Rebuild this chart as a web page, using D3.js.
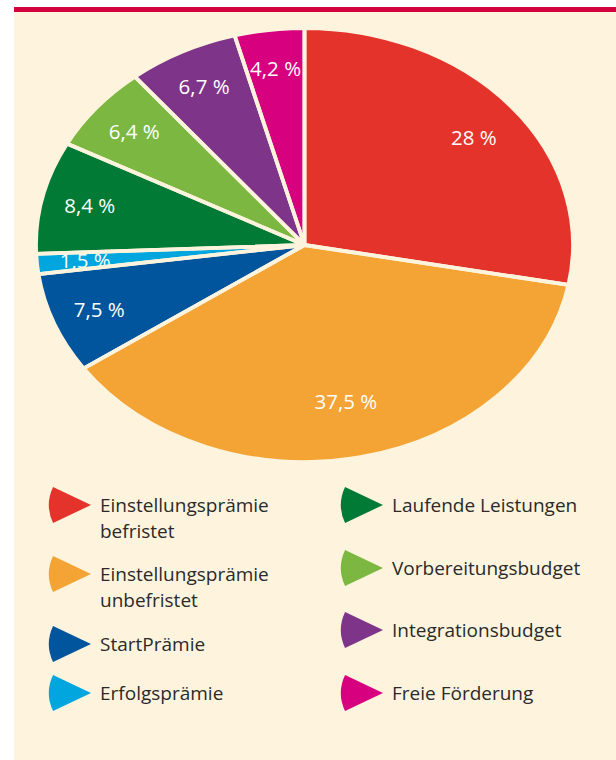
<!DOCTYPE html>
<html>
<head>
<meta charset="utf-8">
<script src="https://cdn.jsdelivr.net/npm/d3@7"></script>
<style>
  html, body { margin: 0; padding: 0; background: #ffffff; }
  svg { display: block; }
</style>
</head>
<body>
<svg id="chart" width="616" height="760"></svg>
<script>
// ---- data ----
const categories = [
  "Einstellungsprämie befristet",
  "Einstellungsprämie unbefristet",
  "StartPrämie",
  "Erfolgsprämie",
  "Laufende Leistungen",
  "Vorbereitungsbudget",
  "Integrationsbudget",
  "Freie Förderung"
];
const values = [28, 37.5, 7.5, 1.5, 8.4, 6.4, 6.7, 4.2];
const valueLabels = ["28 %", "37,5 %", "7,5 %", "1,5 %", "8,4 %", "6,4 %", "6,7 %", "4,2 %"];
const colors = ["#E4332A", "#F4A434", "#00559D", "#00A6DD", "#007A34", "#7CB742", "#7E3589", "#D7007F"];
const legendLines = [
  ["Einstellungsprämie", "befristet"],
  ["Einstellungsprämie", "unbefristet"],
  ["StartPrämie"],
  ["Erfolgsprämie"],
  ["Laufende Leistungen"],
  ["Vorbereitungsbudget"],
  ["Integrationsbudget"],
  ["Freie Förderung"]
];

// ---- layout ----
const W = 616, H = 760;
const cream = "#FEF4DE";
const svg = d3.select("#chart");

svg.append("rect").attr("x", 14).attr("y", 12).attr("width", W - 14).attr("height", H - 12).attr("fill", cream);
svg.append("rect").attr("x", 14).attr("y", 7).attr("width", W - 14).attr("height", 5).attr("fill", "#D2003C");

const cx = 304.5, cy = 245, rx = 268.5, ry = 217;
const sx = rx / ry;

const pie = d3.pie().sort(null).value(d => d)(values);
const arc = d3.arc().innerRadius(0).outerRadius(ry);

const pieG = svg.append("g").attr("transform", `translate(${cx},${cy}) scale(${sx},1)`);

pieG.selectAll("path.slice")
  .data(pie)
  .join("path")
  .attr("class", "slice")
  .attr("d", arc)
  .attr("fill", (d, i) => colors[i]);

// labels
const labelArcFor = (d) => {
  const r = d.data === d3.max(values) ? 0.74 * ry : 0.82 * ry;
  return d3.arc().innerRadius(r).outerRadius(r);
};
const labelG = svg.append("g").attr("transform", `translate(${cx},${cy})`);
labelG.selectAll("text")
  .data(pie)
  .join("text")
  .attr("x", d => labelArcFor(d).centroid(d)[0] * sx)
  .attr("y", d => labelArcFor(d).centroid(d)[1] + (d.data === values[0] ? 6 : 0))
  .attr("dy", "0.35em")
  .attr("text-anchor", "middle")
  .attr("fill", "#ffffff")
  .attr("font-family", "'Open Sans', sans-serif")
  .attr("font-size", 20.5)
  .text((d, i) => valueLabels[i]);

// separators on top
const sepG = svg.append("g").attr("transform", `translate(${cx},${cy}) scale(${sx},1)`);
sepG.selectAll("path")
  .data(pie)
  .join("path")
  .attr("d", arc)
  .attr("fill", "none")
  .attr("stroke", cream)
  .attr("stroke-width", 3.8)
  .attr("stroke-linejoin", "miter")
  .attr("vector-effect", "non-scaling-stroke");

// ---- legend ----
const legendPos = [
  {ax: 91, ay: 505}, {ax: 91, ay: 574}, {ax: 91, ay: 644}, {ax: 91, ay: 693},
  {ax: 383, ay: 505}, {ax: 383, ay: 568}, {ax: 383, ay: 630}, {ax: 383, ay: 693}
];
const half = 25.4 * Math.PI / 180;
const markerArc = d3.arc().innerRadius(0).outerRadius(42)
  .startAngle(1.5 * Math.PI - half).endAngle(1.5 * Math.PI + half);

const legend = svg.append("g");
const items = legend.selectAll("g")
  .data(categories)
  .join("g")
  .attr("transform", (d, i) => `translate(${legendPos[i].ax},${legendPos[i].ay})`);

items.append("path")
  .attr("d", markerArc())
  .attr("fill", (d, i) => colors[i]);

items.each(function(d, i) {
  const t = d3.select(this).append("text")
    .attr("x", 9)
    .attr("y", 7)
    .attr("fill", "#2a2a2a")
    .attr("font-family", "'Open Sans', sans-serif")
    .attr("font-size", 19);
  legendLines[i].forEach((line, j) => {
    t.append("tspan").attr("x", 9).attr("dy", j === 0 ? 0 : 26).text(line);
  });
});
</script>
</body>
</html>
